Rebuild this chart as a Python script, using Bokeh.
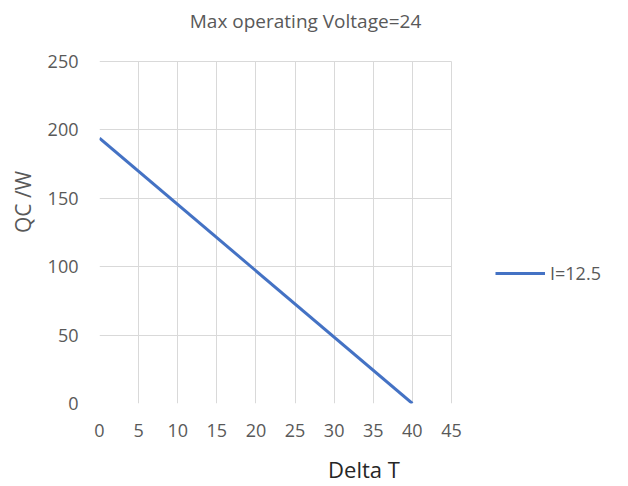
from bokeh.plotting import figure
from bokeh.models import Range1d, Legend, LegendItem, FixedTicker, Label
from bokeh.embed import file_html
from bokeh.resources import INLINE

# data
delta_t = [0, 40]
qc = [194, 0]
series_name = "I=12.5"
title_text = "Max operating Voltage=24"
x_ticks = [0, 5, 10, 15, 20, 25, 30, 35, 40, 45]
y_ticks = [0, 50, 100, 150, 200, 250]

FONT = "Open Sans"
GRID = "#d9d9d9"
TXT = "#595959"

# frame spans from the plot area's bottom-left to the canvas' top-right;
# the visible plot box (0..45 x 0..250) is drawn by bounded grid lines
X_END = 67.63
Y_END = 294.6

p = figure(width=628, height=486, output_backend="svg", toolbar_location=None,
           x_range=Range1d(0, X_END), y_range=Range1d(0, Y_END),
           min_border_left=99, min_border_right=0, min_border_top=0, min_border_bottom=83)

p.outline_line_color = None

for ax in (p.xaxis[0], p.yaxis[0]):
    ax.axis_line_color = None
    ax.major_tick_line_color = None
    ax.minor_tick_line_color = None
    ax.major_tick_out = 0
    ax.major_tick_in = 0
    ax.minor_tick_out = 0
    ax.major_label_text_font = FONT
    ax.major_label_text_font_size = "18px"
    ax.major_label_text_color = TXT
    ax.axis_label_text_font = FONT
    ax.axis_label_text_font_style = "normal"

p.xaxis.ticker = FixedTicker(ticks=x_ticks)
p.yaxis.ticker = FixedTicker(ticks=y_ticks)
p.xaxis.major_label_standoff = 20
p.yaxis.major_label_standoff = 21
p.xaxis.axis_label = "Delta T"
p.xaxis.axis_label_text_color = "#262626"
p.xaxis.axis_label_text_font_size = "22px"
p.xaxis.axis_label_standoff = 14
p.yaxis.axis_label = "QC /W"
p.yaxis.axis_label_text_color = TXT
p.yaxis.axis_label_text_font_size = "21px"
p.yaxis.axis_label_standoff = 8

p.xgrid.grid_line_color = GRID
p.ygrid.grid_line_color = GRID
p.xgrid.ticker = FixedTicker(ticks=x_ticks)
p.ygrid.ticker = FixedTicker(ticks=y_ticks)
p.xgrid.cross_bounds = (y_ticks[0], y_ticks[-1])
p.ygrid.cross_bounds = (x_ticks[0], x_ticks[-1])

r = p.line(delta_t, qc, line_color="#4472C4", line_width=3)

p.add_layout(Label(x=206, y=383, x_units="screen", y_units="screen", text=title_text,
                   text_align="center", text_baseline="middle", text_font=FONT,
                   text_font_size="19px", text_color=TXT))

legend = Legend(items=[LegendItem(label=series_name, renderers=[r])],
                location=(396, 118), border_line_color=None, background_fill_alpha=0,
                padding=0, margin=0, glyph_width=50, label_standoff=5,
                label_text_font=FONT, label_text_font_size="18px", label_text_color=TXT)
p.add_layout(legend)

open("out.html", "w").write(file_html(p, INLINE))
